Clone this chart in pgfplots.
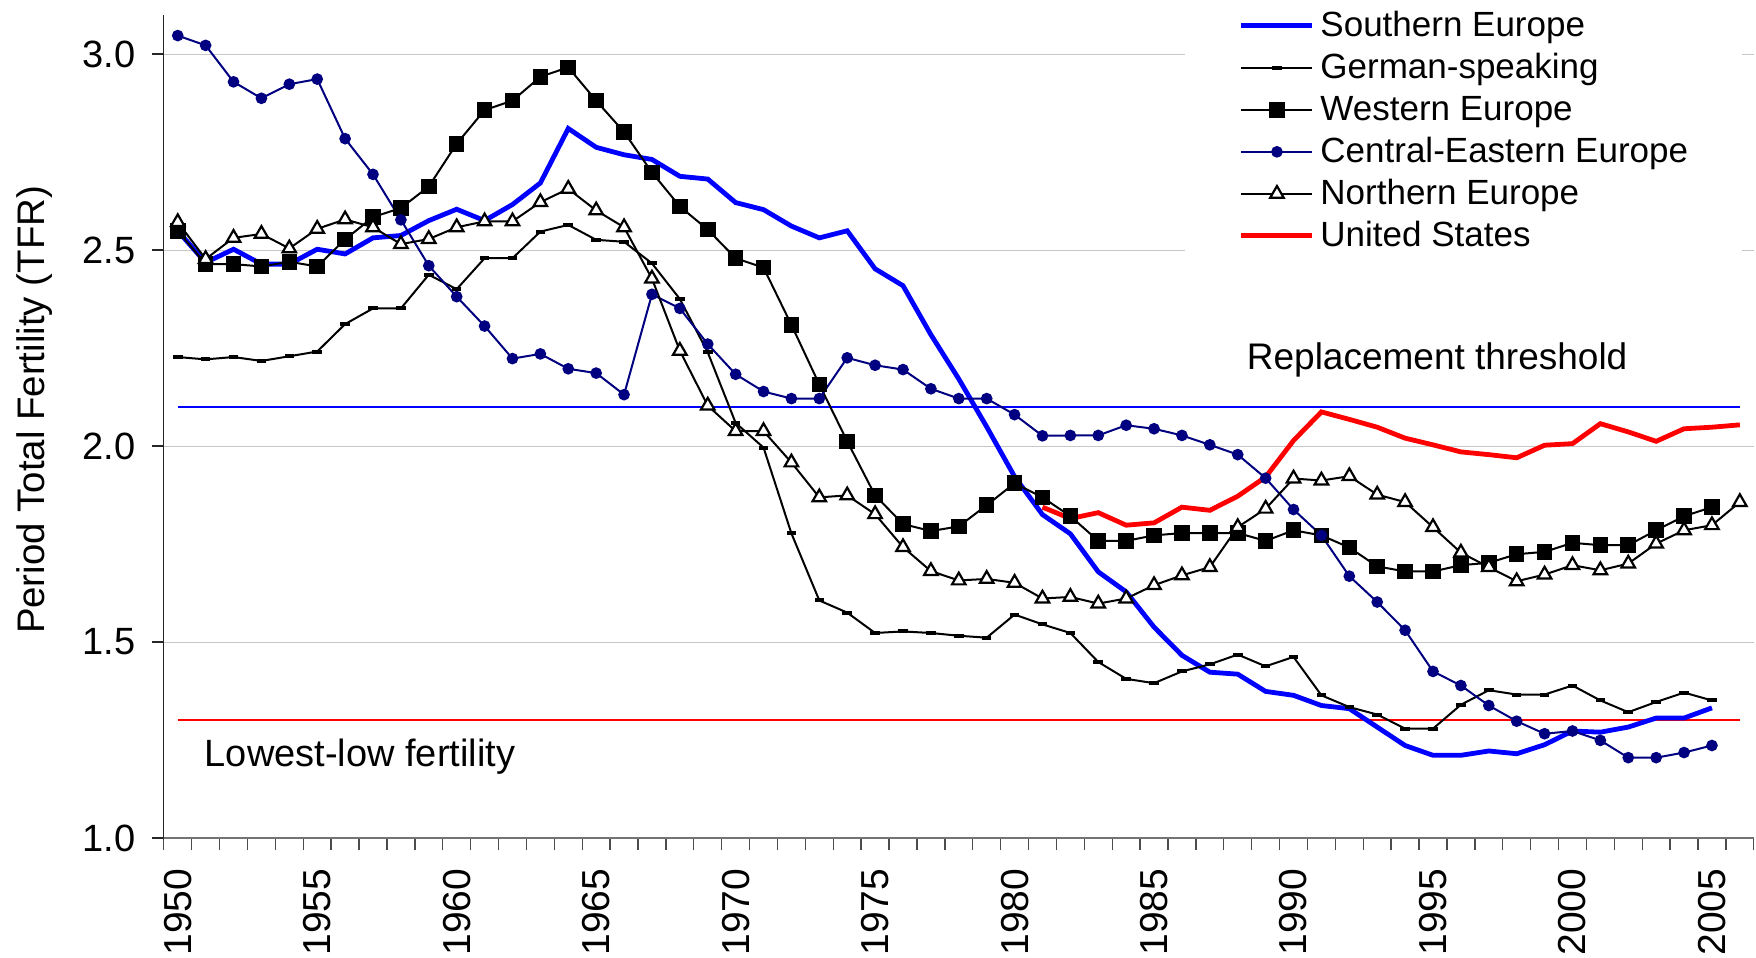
\documentclass[border=0pt]{standalone}
\usepackage{fontspec}
\setmainfont{Liberation Sans}
\usepackage{pgfplots}
\pgfplotsset{compat=1.18}
\definecolor{navyce}{RGB}{0,0,128}

\begin{document}
\begin{tikzpicture}
% picture frame: 1756 x 957 px at 0.25pt per px
\useasboundingbox (-40.95pt,-29.75pt) rectangle (398.05pt,209.5pt);
\begin{axis}[
  at={(0,0)}, anchor=south west,
  scale only axis, width=397.5pt, height=205.8pt,
  xmin=1949.5, xmax=2006.5, ymin=1, ymax=3.1,
  axis x line*=bottom, axis y line*=left,
  x axis line style={black!55, line width=0.55pt},
  y axis line style={black!85, line width=0.35pt},
  tick align=outside,
  major tick length=3pt,
  xtick={1949.5,1950.5,...,2006.5}, xticklabels={},
  xtick style={black!70, line width=0.35pt},
  ytick style={black!85, line width=0.35pt},
  extra x ticks={1950,1955,...,2005},
  extra x tick labels={1950,1955,1960,1965,1970,1975,1980,1985,1990,1995,2000,2005},
  extra x tick style={major tick length=0pt},
  xticklabel style={font=\fontsize{9.75}{9.75}\selectfont, yshift=-7.5pt, rotate=90, anchor=east, inner sep=0pt},
  ytick={1,1.5,...,3},
  /pgf/number format/assume math mode=true,
  yticklabel style={font=\fontsize{9.5}{9.5}\selectfont, xshift=-0.5pt, /pgf/number format/fixed,
    /pgf/number format/fixed zerofill, /pgf/number format/precision=1},
  ymajorgrids, grid style={black!22, line width=0.25pt},
  ylabel={Period Total Fertility (TFR)},
  ylabel style={at={(axis description cs:-0.0814,0.52)}, anchor=center,
    font=\fontsize{9.6}{9.6}\selectfont},
  legend cell align=left,
  legend image code/.code={\draw[mark repeat=2,mark phase=2,#1]
    plot coordinates {(0pt,0pt) (8.875pt,0pt) (17.75pt,0pt)};},
  legend style={at={(axis description cs:0.6423,1.017)}, anchor=north west,
    draw=none, fill=white, inner xsep=13.5pt, inner ysep=1pt, outer sep=0pt,
    row sep=0pt, column sep=1.4pt, font=\fontsize{8.75}{8.75}\selectfont,
    nodes={inner sep=0pt, text height=7.95pt, text depth=2.55pt}},
]

% thresholds
\addplot[blue, line width=0.5pt, forget plot] coordinates {(1950,2.1) (2006,2.1)};
\addplot[red, line width=0.5pt, forget plot] coordinates {(1950,1.3) (2006,1.3)};

% Southern Europe
\addplot[blue, line width=1.2pt, no markers] coordinates {
(1950,2.549) (1951,2.468) (1952,2.502) (1953,2.464) (1954,2.464) (1955,2.502)
(1956,2.490) (1957,2.531) (1958,2.537) (1959,2.575) (1960,2.604) (1961,2.575)
(1962,2.616) (1963,2.671) (1964,2.810) (1965,2.762) (1966,2.743) (1967,2.731)
(1968,2.688) (1969,2.681) (1970,2.621) (1971,2.603) (1972,2.561) (1973,2.531)
(1974,2.549) (1975,2.452) (1976,2.409) (1977,2.284) (1978,2.171) (1979,2.049)
(1980,1.922) (1981,1.825) (1982,1.776) (1983,1.679) (1984,1.628) (1985,1.538)
(1986,1.466) (1987,1.423) (1988,1.418) (1989,1.374) (1990,1.364) (1991,1.338)
(1992,1.330) (1993,1.283) (1994,1.236) (1995,1.211) (1996,1.211) (1997,1.222)
(1998,1.215) (1999,1.238) (2000,1.273) (2001,1.270) (2002,1.283) (2003,1.306)
(2004,1.306) (2005,1.332)};
\addlegendentry{Southern Europe}

% German-speaking
\addplot[black, line width=0.5pt, mark=-, mark size=1.2pt, mark options={line width=1pt}] coordinates {
(1950,2.227) (1951,2.221) (1952,2.227) (1953,2.217) (1954,2.229) (1955,2.241)
(1956,2.311) (1957,2.351) (1958,2.351) (1959,2.437) (1960,2.400) (1961,2.479)
(1962,2.479) (1963,2.547) (1964,2.564) (1965,2.526) (1966,2.521) (1967,2.466)
(1968,2.375) (1969,2.239) (1970,2.059) (1971,1.996) (1972,1.777) (1973,1.606)
(1974,1.575) (1975,1.523) (1976,1.527) (1977,1.523) (1978,1.516) (1979,1.511)
(1980,1.570) (1981,1.545) (1982,1.523) (1983,1.449) (1984,1.406) (1985,1.395)
(1986,1.425) (1987,1.443) (1988,1.468) (1989,1.438) (1990,1.462) (1991,1.364)
(1992,1.334) (1993,1.315) (1994,1.279) (1995,1.279) (1996,1.340) (1997,1.377)
(1998,1.366) (1999,1.366) (2000,1.389) (2001,1.351) (2002,1.321) (2003,1.347)
(2004,1.371) (2005,1.351)};
\addlegendentry{German-speaking}

% Western Europe
\addplot[black, line width=0.5pt, mark=square*, mark size=1.7pt] coordinates {
(1950,2.549) (1951,2.464) (1952,2.464) (1953,2.458) (1954,2.470) (1955,2.458)
(1956,2.527) (1957,2.584) (1958,2.607) (1959,2.662) (1960,2.771) (1961,2.857)
(1962,2.881) (1963,2.942) (1964,2.966) (1965,2.881) (1966,2.801) (1967,2.698)
(1968,2.611) (1969,2.552) (1970,2.479) (1971,2.455) (1972,2.309) (1973,2.157)
(1974,2.012) (1975,1.874) (1976,1.801) (1977,1.783) (1978,1.795) (1979,1.849)
(1980,1.905) (1981,1.869) (1982,1.821) (1983,1.758) (1984,1.758) (1985,1.772)
(1986,1.778) (1987,1.778) (1988,1.778) (1989,1.758) (1990,1.785) (1991,1.772)
(1992,1.741) (1993,1.693) (1994,1.680) (1995,1.680) (1996,1.696) (1997,1.702)
(1998,1.724) (1999,1.730) (2000,1.753) (2001,1.747) (2002,1.747) (2003,1.785)
(2004,1.821) (2005,1.844)};
\addlegendentry{Western Europe}

% Central-Eastern Europe
\addplot[navyce, line width=0.5pt, mark=*, mark size=1.2pt] coordinates {
(1950,3.047) (1951,3.022) (1952,2.929) (1953,2.887) (1954,2.923) (1955,2.936)
(1956,2.784) (1957,2.693) (1958,2.577) (1959,2.460) (1960,2.381) (1961,2.306)
(1962,2.223) (1963,2.235) (1964,2.197) (1965,2.186) (1966,2.131) (1967,2.387)
(1968,2.351) (1969,2.260) (1970,2.183) (1971,2.139) (1972,2.121) (1973,2.121)
(1974,2.225) (1975,2.206) (1976,2.195) (1977,2.146) (1978,2.121) (1979,2.121)
(1980,2.080) (1981,2.026) (1982,2.027) (1983,2.027) (1984,2.053) (1985,2.044)
(1986,2.027) (1987,2.003) (1988,1.978) (1989,1.918) (1990,1.838) (1991,1.772)
(1992,1.668) (1993,1.602) (1994,1.530) (1995,1.425) (1996,1.389) (1997,1.338)
(1998,1.298) (1999,1.266) (2000,1.273) (2001,1.249) (2002,1.205) (2003,1.205)
(2004,1.218) (2005,1.236)};
\addlegendentry{Central-Eastern Europe}

% Northern Europe
\addplot[black, line width=0.5pt, mark=triangle*, mark size=1.95pt, mark options={fill=white, line width=0.55pt}] coordinates {
(1950,2.571) (1951,2.477) (1952,2.531) (1953,2.541) (1954,2.504) (1955,2.554)
(1956,2.578) (1957,2.558) (1958,2.515) (1959,2.528) (1960,2.558) (1961,2.573)
(1962,2.573) (1963,2.622) (1964,2.656) (1965,2.601) (1966,2.558) (1967,2.427)
(1968,2.243) (1969,2.103) (1970,2.038) (1971,2.038) (1972,1.958) (1973,1.869)
(1974,1.874) (1975,1.826) (1976,1.742) (1977,1.681) (1978,1.657) (1979,1.661)
(1980,1.651) (1981,1.611) (1982,1.615) (1983,1.598) (1984,1.611) (1985,1.645)
(1986,1.670) (1987,1.691) (1988,1.793) (1989,1.840) (1990,1.917) (1991,1.912)
(1992,1.923) (1993,1.876) (1994,1.857) (1995,1.793) (1996,1.728) (1997,1.691)
(1998,1.655) (1999,1.672) (2000,1.696) (2001,1.683) (2002,1.700) (2003,1.751)
(2004,1.785) (2005,1.798) (2006,1.857)};
\addlegendentry{Northern Europe}

% United States
\addplot[red, line width=1.2pt, no markers] coordinates {
(1981,1.844) (1982,1.815) (1983,1.830) (1984,1.798) (1985,1.804) (1986,1.844)
(1987,1.836) (1988,1.872) (1989,1.921) (1990,2.014) (1991,2.087) (1992,2.068)
(1993,2.048) (1994,2.020) (1995,2.003) (1996,1.985) (1997,1.978) (1998,1.970)
(1999,2.002) (2000,2.006) (2001,2.057) (2002,2.036) (2003,2.012) (2004,2.044)
(2005,2.048) (2006,2.054)};
\addlegendentry{United States}

\node[anchor=base west, inner sep=0pt, font=\fontsize{9.25}{9.25}\selectfont]
  at (axis cs:1988.3,2.195) {Replacement threshold};
\node[anchor=base west, inner sep=0pt, font=\fontsize{9.5}{9.5}\selectfont]
  at (axis cs:1950.94,1.182) {Lowest-low fertility};
\end{axis}
\end{tikzpicture}
\end{document}
